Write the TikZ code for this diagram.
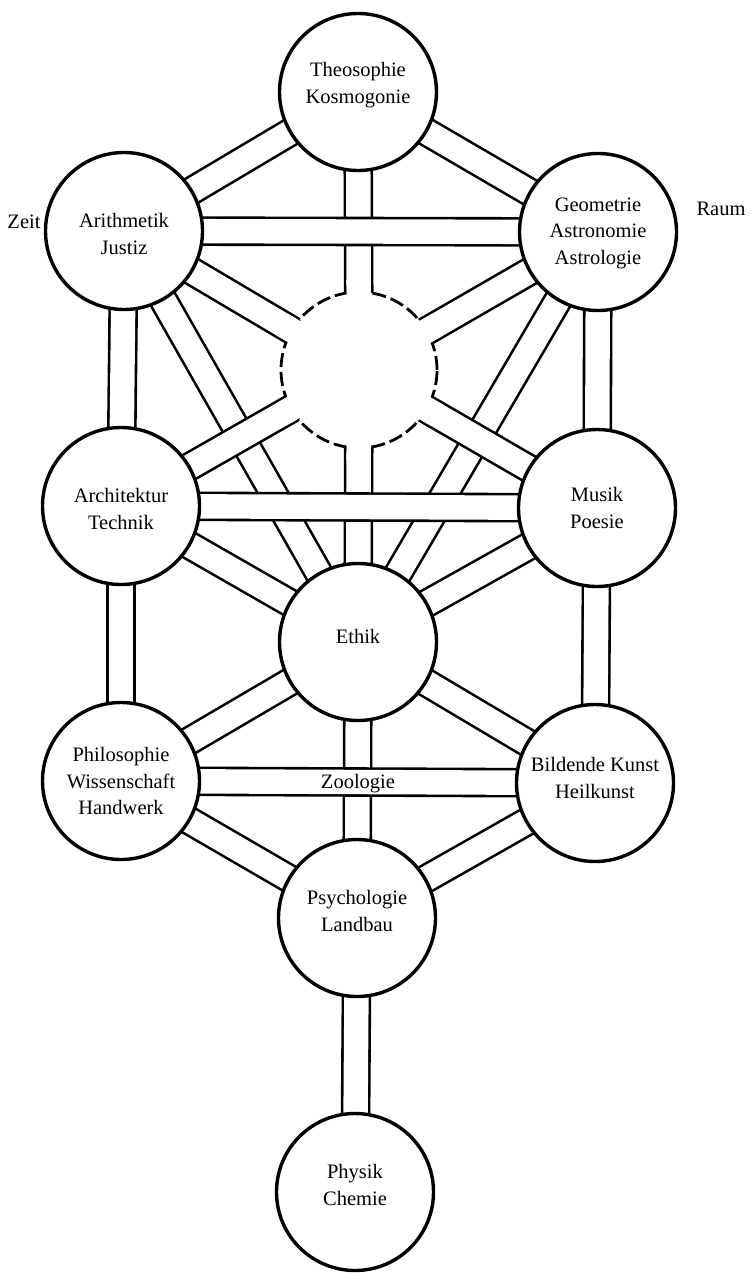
\documentclass[tikz,border=0pt]{standalone}
\usepackage{fontspec}
\setmainfont{Liberation Serif}
\usetikzlibrary{calc}
\pgfdeclarelayer{bg}
\pgfsetlayers{bg,main}
\newcommand\mkchan[2]{\draw[chanout] (#1.center) -- (#2.center); \draw[chanin] (#1.center) -- (#2.center);}
\begin{document}
\begin{tikzpicture}[x=1pt,y=-1pt,
  sph/.style={circle,draw,line width=3.4pt,fill=white,minimum size=157pt,inner sep=0pt},
  txt/.style={font=\fontsize{20.5}{26.5}\selectfont,align=center,inner sep=0pt},
  hub/.style={circle,draw,line width=2.8pt,dash pattern=on 14pt off 5pt,fill=white,minimum size=156pt,inner sep=0pt},
  chanout/.style={line width=29.6pt,black},
  chanin/.style={line width=24.4pt,white}]
\useasboundingbox (0,0) rectangle (750,1274);
% spheres
\node[sph,label={[txt,yshift=7pt]center:Theosophie\\Kosmogonie}] (T) at (358,92) {};
\node[sph,label={[txt,yshift=-3pt]center:Arithmetik\\Justiz}] (A) at (124,231) {};
\node[sph,label={[txt,yshift=-1pt]center:Geometrie\\Astronomie\\Astrologie}] (G) at (598,232) {};
\node[hub] (D) at (359,370) {};
\node[sph,label={[txt,yshift=-3pt]center:Architektur\\Technik}] (Ar) at (121,506) {};
\node[sph,label={[txt]center:Musik\\Poesie}] (M) at (597,508) {};
\node[sph,label={[txt,yshift=6pt]center:Ethik}] (E) at (358,642) {};
\node[sph,label={[txt]center:Philosophie\\Wissenschaft\\Handwerk}] (P) at (121,781) {};
\node[sph,label={[txt,yshift=5pt]center:Bildende Kunst\\Heilkunst}] (B) at (595,783) {};
\node[sph,label={[txt,yshift=7pt]center:Psychologie\\Landbau}] (Ps) at (357,918) {};
\node[sph,label={[txt,yshift=7pt]center:Physik\\Chemie}] (Ph) at (355,1192) {};
% open mouths of the hub
\foreach \x in {T,A,G,Ar,M,E}{
  \draw[chanin] (D.center) -- ($(D.center)!90pt!(\x.center)$);
}
% side labels
\node[txt] (zeit) at (24,222) {Zeit};
\node[txt] (raum) at (721,209) {Raum};
\node[txt] (zoo) at (358,784) {Zoologie};
% channels
\begin{pgfonlayer}{bg}
\mkchan{T}{D}
\mkchan{A}{E}
\mkchan{G}{E}
\mkchan{D}{E}
\mkchan{E}{Ps}
\mkchan{T}{A}
\mkchan{T}{G}
\mkchan{A}{G}
\mkchan{A}{D}
\mkchan{G}{D}
\mkchan{A}{Ar}
\mkchan{G}{M}
\mkchan{D}{Ar}
\mkchan{D}{M}
\mkchan{Ar}{M}
\mkchan{Ar}{E}
\mkchan{M}{E}
\mkchan{Ar}{P}
\mkchan{M}{B}
\mkchan{E}{P}
\mkchan{E}{B}
\mkchan{P}{B}
\mkchan{P}{Ps}
\mkchan{B}{Ps}
\mkchan{Ps}{Ph}
\end{pgfonlayer}
\end{tikzpicture}
\end{document}
